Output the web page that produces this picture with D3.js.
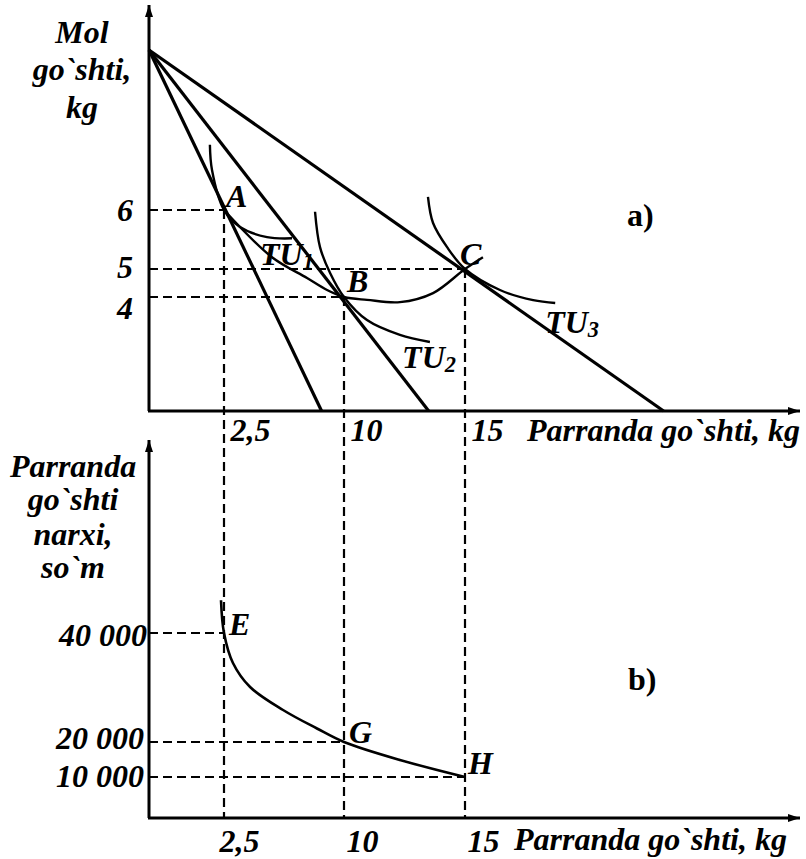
<!DOCTYPE html>
<html><head><meta charset="utf-8">
<script src="https://cdn.jsdelivr.net/npm/d3@7"></script>
<style>
body{margin:0;background:#fff}
text{font-family:"Liberation Serif","Times New Roman",serif;font-weight:bold;font-style:italic;fill:#000}
</style>
</head><body>
<svg id="c" width="806" height="859"></svg>
<script>
// ---- data (schematic values) ----
const xTickValues = [2.5, 10, 15];
const xTickLabels = ["2,5", "10", "15"];
const molTickValues = [6, 5, 4];
const molTickLabels = ["6", "5", "4"];
const priceTickValues = [40000, 20000, 10000];
const priceTickLabels = ["40 000", "20 000", "10 000"];
const budgetYIntercept = 10;
const budgetXIntercepts = [8.6, 13.5, 23.3];
const optNames = ["A", "B", "C"];
const optX = [2.5, 10, 15];
const optY = [6, 4, 5];
const demNames = ["E", "G", "H"];
const demX = [2.5, 10, 15];
const demY = [40000, 20000, 10000];
const tu1 = [[2.03,7.63],[2.1,7.0],[2.5,6],[3.5,5.71],[5.19,5.54],[6.75,5.52]];
const tu2 = [[8.19,5.97],[8.5,5.37],[9.13,4.86],[10,4],[10.95,3.19],[12.31,2.67],[13.55,2.42]];
const tu3 = [[13.47,6.33],[13.68,5.78],[14.26,5.37],[15,5],[16.46,4.25],[17.85,3.89],[18.77,3.79]];
const pcc = [[2.5,6],[5.5,5.2],[7.69,4.68],[8.94,4.25],[10,4],[10.95,3.9],[12.31,3.82],[13.68,4.14],[15,5],[15.75,5.2]];
const demandCurve = [[2.4,46800],[2.5,40000],[3.06,34500],[4.13,30090],[6.19,25870],[8.31,22480],[10,20000],[12.31,14860],[15,10000]];
const tuLabels = [{t:"TU", s:"1", x:4.75, y:5.07}, {t:"TU", s:"2", x:12.4, y:1.51}, {t:"TU", s:"3", x:18.35, y:2.74}];
const molTitle = ["Mol", "go`shti,", "kg"];
const priceTitle = ["Parranda", "go`shti", "narxi,", "so`m"];
const xTitle = "Parranda go`shti, kg";
const xAxisMax = 29, molAxisMax = 11.1, priceAxisMax = 80000;

// ---- scales ----
const x = d3.scaleLinear().domain([0, 2.5, 10, 15, 29]).range([149, 224, 344, 465, 800]);
const yTop = d3.scaleLinear().domain([0, 4, 5, 6, 10, 11.1]).range([411, 297, 269, 210, 50, 5]);
const yBot = d3.scaleLinear().domain([0, 10000, 20000, 40000, 80000]).range([818, 777, 742, 633, 440]);

const svg = d3.select("#c");
const defs = svg.append("defs");
defs.append("marker").attr("id","arr").attr("viewBox","0 0 12 10").attr("refX",12).attr("refY",5)
  .attr("markerWidth",12).attr("markerHeight",10).attr("markerUnits","userSpaceOnUse").attr("orient","auto")
  .append("path").attr("d","M0,1 L12,5 L0,9 Z").attr("fill","#000");

const dash = "9,5";
const FS = 32;

// ---- axes (top) ----
svg.append("line").attr("x1",x(0)).attr("y1",yTop(0)).attr("x2",x(0)).attr("y2",yTop(molAxisMax))
  .attr("stroke","#000").attr("stroke-width",3).attr("marker-end","url(#arr)");
svg.append("line").attr("x1",x(0)-1).attr("y1",yTop(0)).attr("x2",x(xAxisMax)).attr("y2",yTop(0))
  .attr("stroke","#000").attr("stroke-width",3).attr("marker-end","url(#arr)");
// ---- axes (bottom) ----
svg.append("line").attr("x1",x(0)).attr("y1",yBot(0)).attr("x2",x(0)).attr("y2",yBot(priceAxisMax))
  .attr("stroke","#000").attr("stroke-width",3).attr("marker-end","url(#arr)");
svg.append("line").attr("x1",x(0)-1).attr("y1",yBot(0)).attr("x2",x(xAxisMax)).attr("y2",yBot(0))
  .attr("stroke","#000").attr("stroke-width",3).attr("marker-end","url(#arr)");

// ---- dashed guides ----
const g = svg.append("g").attr("stroke","#000").attr("stroke-width",2.2).attr("stroke-dasharray",dash).attr("fill","none");
optX.forEach((v,i)=>{
  g.append("line").attr("x1",x(0)).attr("y1",yTop(optY[i])).attr("x2",x(v)).attr("y2",yTop(optY[i]));
  g.append("line").attr("x1",x(v)).attr("y1",yTop(optY[i])).attr("x2",x(v)).attr("y2",yBot(0));
});
demX.forEach((v,i)=>{
  g.append("line").attr("x1",x(0)).attr("y1",yBot(demY[i])).attr("x2",x(v)).attr("y2",yBot(demY[i]));
});

// ---- budget lines ----
const lineTop = d3.line().x(d=>x(d[0])).y(d=>yTop(d[1]));
budgetXIntercepts.forEach(b=>{
  svg.append("path").attr("d",lineTop([[0,budgetYIntercept],[b,0]]))
    .attr("stroke","#000").attr("stroke-width",3.2).attr("fill","none");
});

// ---- curves ----
const curveTop = d3.line().x(d=>x(d[0])).y(d=>yTop(d[1])).curve(d3.curveCatmullRom.alpha(0.5));
[tu1, tu2, tu3, pcc].forEach(c=>{
  svg.append("path").attr("d",curveTop(c)).attr("stroke","#000").attr("stroke-width",2.4).attr("fill","none");
});
const curveBot = d3.line().x(d=>x(d[0])).y(d=>yBot(d[1])).curve(d3.curveCatmullRom.alpha(0.5));
svg.append("path").attr("d",curveBot(demandCurve)).attr("stroke","#000").attr("stroke-width",2.6).attr("fill","none");

// ---- tick labels ----
const topX = svg.append("g").attr("transform",`translate(0,${yTop(0)})`)
  .call(d3.axisBottom(x).tickValues(xTickValues).tickSize(0).tickFormat((d,i)=>xTickLabels[i]));
topX.select(".domain").remove();
topX.selectAll("text").attr("font-size",FS).attr("text-anchor","start").attr("dx",6).attr("y",7).attr("dy","0.71em");
const botX = svg.append("g").attr("transform",`translate(0,${yBot(0)})`)
  .call(d3.axisBottom(x).tickValues(xTickValues).tickSize(0).tickFormat((d,i)=>xTickLabels[i]));
botX.select(".domain").remove();
botX.selectAll("text").attr("font-size",FS).attr("text-anchor","start").attr("dx",(d,i)=>i===0?-5:2).attr("y",11).attr("dy","0.71em");
[topX, botX].forEach(a=>a.attr("font-family",null).attr("font-size",null));

const topY = svg.append("g").attr("transform",`translate(${x(0)},0)`)
  .call(d3.axisLeft(yTop).tickValues(molTickValues).tickSize(0).tickFormat((d,i)=>molTickLabels[i]));
topY.select(".domain").remove();
topY.attr("font-family",null).attr("font-size",null);
topY.selectAll("text").attr("font-size",FS).attr("x",-16).attr("dy",(d,i)=>["0.32em","0.28em","0.66em"][i]);

const botY = svg.append("g").attr("transform",`translate(${x(0)},0)`)
  .call(d3.axisLeft(yBot).tickValues(priceTickValues).tickSize(0).tickFormat((d,i)=>priceTickLabels[i]));
botY.select(".domain").remove();
botY.attr("font-family",null).attr("font-size",null);
botY.selectAll("text").attr("font-size",FS).attr("x",(d,i)=>i===0?-2:-5).attr("dy",(d,i)=>["0.38em","0.19em","0.31em"][i]);

// ---- axis titles ----
svg.append("text").attr("x",527).attr("y",yTop(0)+30).attr("font-size",FS).text(xTitle);
svg.append("text").attr("x",514).attr("y",yBot(0)+32).attr("font-size",FS).text(xTitle);
molTitle.forEach((t,i)=>svg.append("text").attr("x",82).attr("y",[43,80,118][i]).attr("text-anchor","middle").attr("font-size",FS).text(t));
priceTitle.forEach((t,i)=>svg.append("text").attr("x",73).attr("y",[477,510,545,578][i]).attr("text-anchor","middle").attr("font-size",FS).text(t));

// ---- point labels ----
const optOff = [[2,-3],[3,-5],[-5,-4]];
optNames.forEach((n,i)=>svg.append("text").attr("x",x(optX[i])+optOff[i][0]).attr("y",yTop(optY[i])+optOff[i][1]).attr("font-size",FS).text(n));
const demOff = [[5,2],[5,1],[3,-3]];
demNames.forEach((n,i)=>svg.append("text").attr("x",x(demX[i])+demOff[i][0]).attr("y",yBot(demY[i])+demOff[i][1]).attr("font-size",FS).text(n));
tuLabels.forEach(l=>{
  const t = svg.append("text").attr("x",x(l.x)).attr("y",yTop(l.y)).attr("font-size",FS);
  t.append("tspan").text(l.t);
  t.append("tspan").attr("font-size",FS*0.7).attr("dy",4).text(l.s);
});

// ---- panel labels ----
svg.append("text").attr("x",627).attr("y",226).attr("font-size",FS).style("font-style","normal").text("a)");
svg.append("text").attr("x",628).attr("y",690).attr("font-size",FS).style("font-style","normal").text("b)");
</script>
</body></html>
